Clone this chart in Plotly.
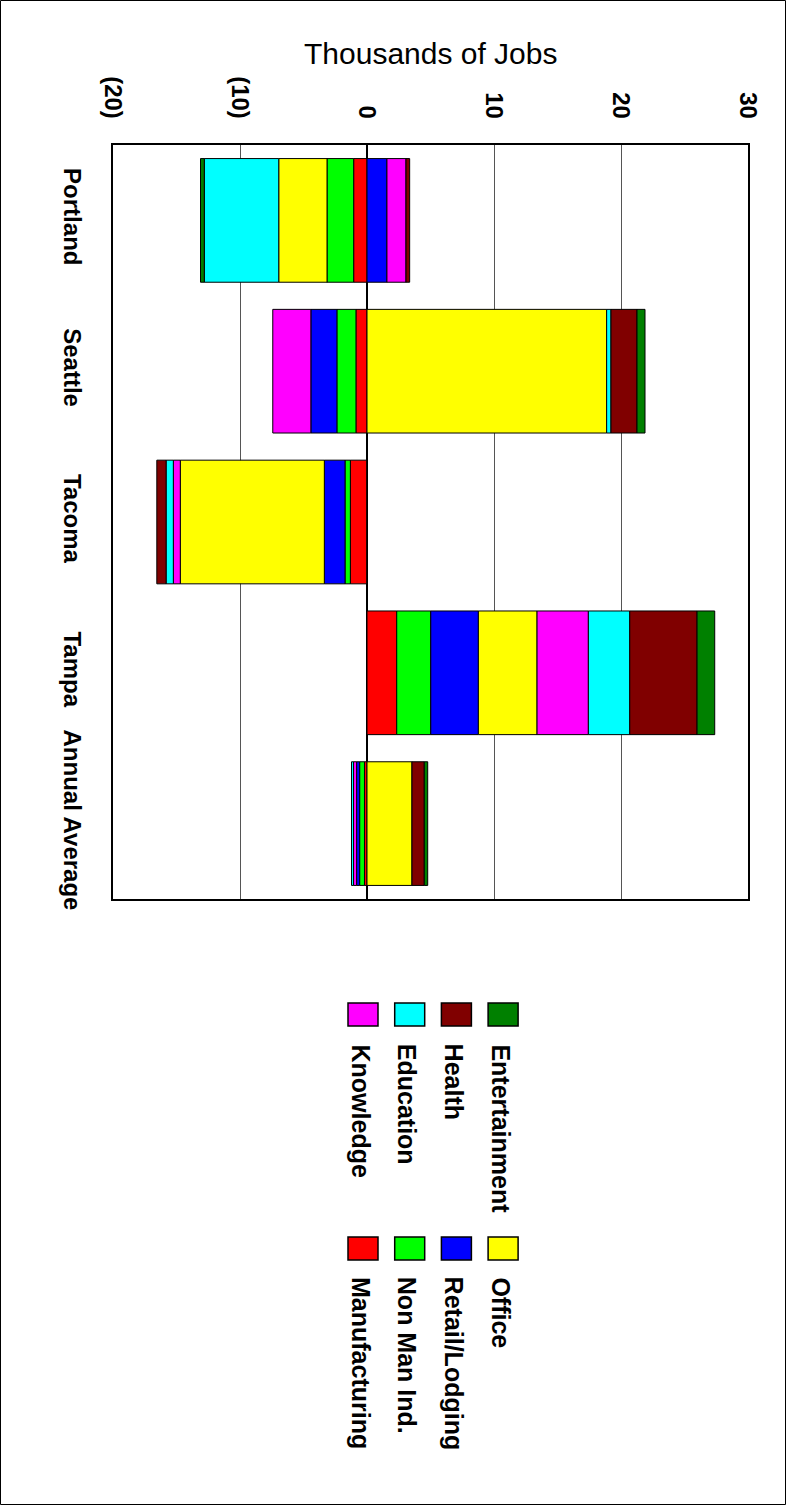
import plotly.graph_objects as go

# ---- data ----
cities = ["Portland", "Seattle", "Tacoma", "Tampa", "Annual Average"]
series_names = ["Manufacturing", "Non Man Ind.", "Retail/Lodging", "Office",
                "Knowledge", "Education", "Health", "Entertainment"]
manufacturing = [-1.05, -0.87, -1.31, 2.34, -0.20]
non_man_ind = [-2.10, -1.50, -0.42, 2.68, -0.38]
retail_lodging = [1.57, -2.05, -1.63, 3.75, -0.24]
office = [-3.80, 18.87, -11.34, 4.62, 3.54]
knowledge = [1.50, -3.00, -0.55, 4.04, -0.24]
education = [-5.86, 0.34, -0.57, 3.26, -0.16]
health = [0.29, 2.05, -0.73, 5.30, 0.97]
entertainment = [-0.30, 0.63, 0.0, 1.39, 0.27]
tick_vals = [-20, -10, 0, 10, 20, 30]
tick_text = ["(20)", "(10)", "0", "10", "20", "30"]
axis_title = "Thousands of Jobs"

colors = ["#FF0000", "#00FF00", "#0000FF", "#FFFF00",
          "#FF00FF", "#00FFFF", "#800000", "#008000"]
values = [manufacturing, non_man_ind, retail_lodging, office,
          knowledge, education, health, entertainment]

W, H = 786, 1505
L, R, T, B = 113, 38, 145, 606
PW, PH = W - L - R, H - T - B

def px(xp):
    return (xp - L) / PW

def py(yp):
    return (H - B - yp) / PH

SANS = "Liberation Sans, Arial, sans-serif"

fig = go.Figure()
for name, vals, col in zip(series_names, values, colors):
    fig.add_trace(go.Bar(
        x=vals, y=cities, orientation="h", name=name,
        marker=dict(color=col, line=dict(color="black", width=1)),
        showlegend=False,
    ))

shapes = []
annotations = []

# manual rotated legend
groups = [[4, 5, 6, 7], [0, 1, 2, 3]]
sq_top = [1003, 1237]
txt_top = [1042, 1275]
for g, idxs in enumerate(groups):
    for k, si in enumerate(idxs):
        x0 = 348 + k * 46.7
        shapes.append(dict(type="rect", xref="paper", yref="paper",
                           x0=px(x0), x1=px(x0 + 30),
                           y0=py(sq_top[g] + 23), y1=py(sq_top[g]),
                           fillcolor=colors[si], line=dict(color="black", width=1.5)))
        annotations.append(dict(text=series_names[si], xref="paper", yref="paper",
                                x=px(x0 + 13), y=py(txt_top[g]),
                                xanchor="center", yanchor="top", textangle=90,
                                showarrow=False,
                                font=dict(family=SANS, size=25, color="black", weight="bold")))

# outer border
shapes.append(dict(type="rect", xref="paper", yref="paper",
                   x0=px(0.5), x1=px(W - 0.5), y0=py(H - 0.5), y1=py(0.5),
                   line=dict(color="black", width=1), fillcolor="rgba(0,0,0,0)"))

annotations.append(dict(text=axis_title, xref="paper", yref="paper",
                        x=px(431), y=py(53), xanchor="center", yanchor="middle",
                        showarrow=False,
                        font=dict(family=SANS, size=30, color="black")))

fig.update_layout(
    width=W, height=H,
    margin=dict(l=L, r=R, t=T, b=B, pad=0),
    barmode="relative", bargap=0.18,
    plot_bgcolor="white", paper_bgcolor="white",
    shapes=shapes, annotations=annotations,
    xaxis=dict(side="top", range=[-20, 30], tickvals=tick_vals, ticktext=tick_text,
               tickangle=90, showgrid=True, gridcolor="#555555", gridwidth=1,
               zeroline=True, zerolinecolor="black", zerolinewidth=2,
               showline=True, mirror=True, linecolor="black", linewidth=1.5,
               ticks="", ticklabelstandoff=16,
               tickfont=dict(family=SANS, size=24, color="black", weight="bold")),
    yaxis=dict(type="category", autorange="reversed", showgrid=False,
               showline=True, mirror=True, linecolor="black", linewidth=1.5,
               ticks="", tickangle=90, ticklabelstandoff=18,
               tickfont=dict(family=SANS, size=24, color="black", weight="bold")),
)

fig.write_html("out.html")
